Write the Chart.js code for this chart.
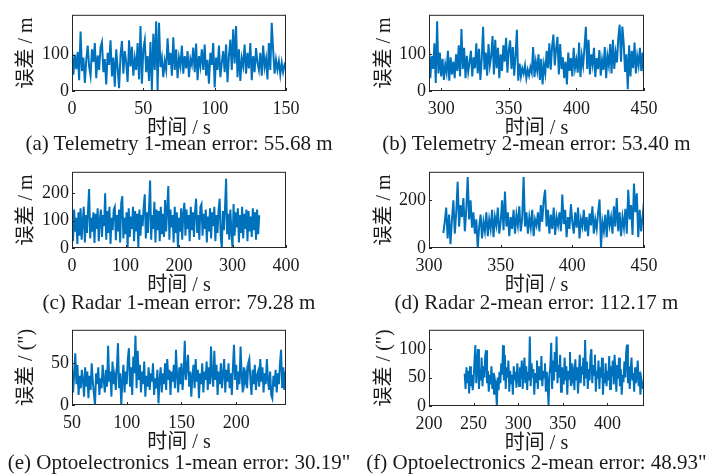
<!DOCTYPE html>
<html lang="zh">
<head>
<meta charset="UTF-8">
<title>误差曲线</title>
<style>
  body { margin: 0; background: #fff; width: 708px; height: 476px; position: relative; overflow: hidden; }
  canvas { position: absolute; }
  .cap { position: absolute; width: 420px; text-align: center; font: 21px "Liberation Serif", "Noto Sans CJK SC", serif; color: #1a1a1a; line-height: 22px; white-space: nowrap; }
</style>
</head>
<body>
<script src="https://cdn.jsdelivr.net/npm/chart.js"></script>
<script>
// (a) Telemetry 1, one sample per second from 0 s
const t0A = 0, dtA = 1;
const errA = [
  115, 45, 100, 60, 108, 30, 164, 55, 92, 22,
  85, 125, 68, 42, 115, 80, 132, 35, 98, 58,
  120, 135, 52, 88, 18, 105, 72, 140, 40, 92,
  12, 115, 62, 8, 98, 138, 48, 110, 78, 25,
  140, 68, 122, 42, 90, 58, 132, 32, 179, 20,
  115, 140, 52, 96, 28, 135, 2, 158, 58, 192,
  0, 188, 66, 92, 38, 82, 58, 145, 72, 105,
  42, 148, 58, 115, 35, 92, 68, 125, 48, 96,
  62, 110, 38, 88, 72, 120, 52, 131, 30, 96,
  68, 115, 58, 128, 42, 86, 20, 105, 72, 132,
  10, 92, 58, 125, 38, 78, 110, 52, 128, 24,
  96, 142, 58, 170, 76, 179, 38, 115, 28, 90,
  68, 128, 48, 105, 62, 132, 30, 96, 52, 118,
  78, 58, 105, 42, 125, 66, 90, 32, 132, 58,
  188, 112, 48, 86, 58, 82, 45, 78, 52, 72, 62
];
// (b) Telemetry 2, from 291 s
const t0B = 291, dtB = 1;
const errB = [
  120, 35, 95, 60, 130, 22, 190, 48, 105, 40,
  88, 30, 72, 50, 110, 28, 92, 45, 80, 35,
  100, 55, 125, 40, 169, 60, 118, 35, 96, 52,
  78, 110, 40, 92, 62, 130, 48, 115, 30, 88,
  175, 58, 105, 42, 128, 70, 95, 150, 45, 140,
  62, 118, 35, 100, 55, 125, 80, 145, 50, 112,
  138, 60, 120, 42, 98, 167, 28, 75, 40, 62,
  48, 70, 35, 58, 42, 65, 50, 120, 38, 80,
  55, 100, 30, 88, 18, 72, 48, 110, 62, 130,
  58, 120, 154, 70, 115, 148, 45, 128, 60, 92,
  35, 80, 18, 105, 55, 90, 40, 118, 62, 85,
  50, 132, 38, 96, 70, 120, 175, 60, 140, 45,
  100, 72, 118, 38, 90, 60, 112, 42, 85, 58,
  120, 35, 95, 70, 128, 48, 140, 60, 105, 78,
  145, 181, 80, 176, 130, 52, 100, 5, 125, 40,
  110, 62, 132, 48, 95, 70, 118, 55, 105, 40
];
// (c) Radar 1, every 2 s from 0 s
const t0C = 0, dtC = 2;
const errC = [
  100, 25, 140, 60, 110, 15, 130, 45, 145, 30,
  95, 150, 20, 120, 55, 140, 215, 35, 110, 60,
  130, 18, 125, 70, 145, 25, 100, 140, 40, 120,
  80, 200, 30, 135, 55, 150, 15, 110, 65, 140,
  150, 28, 120, 60, 140, 20, 165, 189, 35, 110,
  50, 130, 0, 145, 40, 115, 70, 150, 25, 135,
  60, 125, 0, 140, 45, 120, 80, 150, 196, 35,
  130, 55, 148, 246, 30, 120, 70, 169, 20, 140,
  65, 135, 25, 150, 50, 125, 40, 175, 60, 145,
  226, 30, 140, 75, 120, 20, 150, 55, 130, 0,
  110, 60, 145, 30, 125, 165, 45, 140, 70, 120,
  25, 150, 65, 130, 40, 135, 180, 55, 120, 30,
  150, 160, 45, 125, 70, 140, 20, 115, 60, 145,
  35, 130, 80, 150, 25, 120, 55, 140, 180, 40,
  0, 135, 65, 145, 253, 50, 125, 30, 140, 60,
  0, 160, 45, 130, 75, 145, 20, 120, 55, 150,
  35, 125, 70, 140, 25, 135, 60, 115, 40, 145,
  65, 130, 30, 140, 50, 120
];
// (d) Radar 2, from 310 s
const t0D = 310, dtD = 1;
const errD = [
  63, 110, 170, 40, 140, 16, 120, 200, 60, 150,
  278, 90, 180, 130, 210, 70, 160, 298, 120, 200,
  85, 150, 60, 120, 0, 90, 140, 40, 110, 70,
  150, 50, 120, 80, 160, 45, 130, 95, 170, 60,
  110, 200, 75, 237, 90, 150, 50, 130, 80, 160,
  60, 140, 95, 175, 70, 120, 298, 90, 150, 60,
  130, 85, 160, 50, 120, 95, 150, 70, 180, 110,
  200, 244, 90, 160, 60, 140, 80, 170, 55, 130,
  95, 150, 70, 224, 100, 160, 45, 130, 80, 184,
  110, 60, 150, 85, 170, 40, 120, 90, 160, 70,
  130, 50, 145, 95, 175, 60, 120, 80, 150, 204,
  0, 110, 70, 140, 45, 160, 95, 130, 60, 175,
  90, 210, 70, 150, 50, 130, 85, 165, 60, 244,
  120, 180, 55, 271, 150, 230, 45, 160, 70, 130,
  197
];
// (e) Optoelectronics 1, from 50 s
const t0E = 50, dtE = 1;
const errE = [
  45, 15, 38, 62, 25, 48, 12, 35, 20, 42,
  30, 10, 45, 22, 40, 8, 35, 18, 50, 28,
  14, 0, 38, 25, 45, 12, 32, 20, 48, 30,
  15, 42, 22, 71, 28, 40, 10, 52, 25, 35,
  18, 45, 74, 20, 38, 0, 30, 48, 15, 40,
  25, 55, 68, 22, 45, 12, 58, 38, 83, 20,
  65, 30, 48, 15, 40, 25, 52, 10, 35, 22,
  45, 18, 38, 28, 50, 12, 32, 20, 42, 2,
  30, 45, 15, 38, 25, 50, 18, 55, 30, 42,
  12, 40, 28, 48, 20, 66, 35, 15, 45, 25,
  50, 18, 38, 77, 30, 45, 60, 22, 40, 10,
  35, 48, 20, 55, 28, 42, 8, 38, 25, 50,
  15, 40, 30, 52, 18, 45, 25, 70, 35, 22,
  65, 30, 48, 12, 40, 25, 50, 20, 38, 55,
  15, 42, 28, 50, 20, 38, 12, 45, 72, 30,
  48, 18, 40, 25, 70, 35, 15, 45, 28, 38,
  20, 50, 55, 30, 12, 42, 25, 48, 18, 35,
  40, 22, 55, 28, 45, 15, 38, 25, 55, 30,
  18, 40, 12, 8, 35, 22, 42, 15, 38, 25,
  50, 66, 20, 45, 18, 40
];
// (f) Optoelectronics 2, from 240 s
const t0F = 240, dtF = 1;
const errF = [
  57, 30, 68, 40, 62, 22, 70, 35, 55, 28,
  45, 80, 107, 40, 75, 100, 30, 65, 45, 85,
  35, 70, 50, 88, 98, 40, 62, 25, 55, 38,
  70, 30, 58, 20, 45, 35, 0, 50, 28, 60,
  40, 75, 55, 107, 45, 90, 30, 68, 50, 80,
  25, 62, 40, 55, 20, 70, 45, 60, 32, 75,
  50, 35, 68, 48, 80, 30, 62, 85, 40, 70,
  28, 60, 45, 122, 35, 75, 50, 65, 20, 58,
  42, 80, 30, 70, 55, 45, 88, 35, 62, 50,
  75, 25, 60, 40, 0, 55, 70, 111, 30, 80,
  45, 95, 60, 122, 40, 72, 50, 90, 25, 68,
  55, 38, 85, 45, 70, 20, 62, 48, 95, 35,
  75, 50, 60, 28, 82, 45, 68, 22, 58, 90,
  40, 70, 55, 85, 35, 116, 50, 78, 30, 65,
  45, 88, 100, 40, 72, 55, 90, 25, 62, 48,
  80, 30, 68, 50, 85, 20, 58, 40, 75, 35,
  62, 45, 88, 30, 70, 52, 80, 38, 90, 60,
  25, 72, 48, 85, 35, 65, 20, 55, 42, 78,
  50, 95, 108, 40, 70, 30, 62, 85, 45, 58,
  25, 68, 40, 55, 80, 35, 60, 20, 48, 38,
  30
];

// tick labels
const xTicksA = [0, 50, 100, 150], yTicksA = [0, 100];
const xTicksB = [300, 350, 400, 450], yTicksB = [0, 100];
const xTicksC = [0, 100, 200, 300, 400], yTicksC = [0, 100, 200];
const xTicksD = [300, 350, 400, 450], yTicksD = [0, 200];
const xTicksE = [50, 100, 150, 200], yTicksE = [0, 50];
const xTicksF = [200, 250, 300, 350, 400], yTicksF = [0, 50, 100];

const captions = [
  '(a) Telemetry 1-mean error: 55.68 m',
  '(b) Telemetry 2-mean error: 53.40 m',
  '(c) Radar 1-mean error: 79.28 m',
  '(d) Radar 2-mean error: 112.17 m',
  '(e) Optoelectronics 1-mean error: 30.19"',
  '(f) Optoelectronics 2-mean error: 48.93"'
];
const yTitleM = '误差 / m';
const yTitleSec = '误差 / (")';
const xTitle = '时间 / s';

Chart.defaults.font.family = '"Liberation Serif", "Noto Sans CJK SC", serif';
Chart.defaults.color = '#1a1a1a';

// box + inward tick marks, like a matlab axes
const framePlugin = {
  id: 'frame',
  afterDatasetsDraw(chart) {
    const { ctx, chartArea: a, scales } = chart;
    ctx.save();
    ctx.strokeStyle = '#262626';
    ctx.lineWidth = 1;
    ctx.strokeRect(a.left + 0.5, a.top + 0.5, a.width - 1, a.height - 1);
    ctx.beginPath();
    scales.x.ticks.forEach(t => {
      const px = Math.round(scales.x.getPixelForValue(t.value)) + 0.5;
      ctx.moveTo(px, a.bottom);
      ctx.lineTo(px, a.bottom - 3);
    });
    scales.y.ticks.forEach(t => {
      const py = Math.round(scales.y.getPixelForValue(t.value)) + 0.5;
      ctx.moveTo(a.left, py);
      ctx.lineTo(a.left + 3, py);
    });
    ctx.stroke();
    ctx.restore();
  }
};

function makePanel(p) {
  const cv = document.createElement('canvas');
  const padTop = 10, axisH = 50, W = 330;
  const H = p.bottom - p.top + padTop + axisH;
  cv.width = W; cv.height = H;
  cv.style.left = p.col + 'px';
  cv.style.top = (p.top - padTop) + 'px';
  document.body.appendChild(cv);

  const pts = p.values.map((v, i) => ({ x: p.t0 + i * p.dt, y: v }));

  new Chart(cv, {
    type: 'line',
    data: { datasets: [{ data: pts, borderColor: '#0072BD', borderWidth: 2, pointRadius: 0, tension: 0 }] },
    options: {
      responsive: false,
      animation: false,
      devicePixelRatio: 1,
      layout: { padding: { top: padTop, left: 0, right: W - p.right, bottom: 0 } },
      plugins: { legend: { display: false }, tooltip: { enabled: false } },
      scales: {
        x: {
          type: 'linear', min: p.xMin, max: p.xMax,
          afterBuildTicks: s => { s.ticks = p.xTicks.map(v => ({ value: v })); },
          afterFit: s => { s.height = axisH; },
          grid: { display: false, drawTicks: false },
          border: { display: false },
          ticks: { padding: 7, font: { size: 18 }, maxRotation: 0, autoSkip: false },
          title: { display: true, text: xTitle, font: { size: 20 }, padding: { top: 0, bottom: 0 } }
        },
        y: {
          type: 'linear', min: 0, max: p.yMax,
          afterBuildTicks: s => { s.ticks = p.yTicks.map(v => ({ value: v })); },
          afterFit: s => { s.width = p.left; },
          grid: { display: false, drawTicks: false },
          border: { display: false },
          ticks: { padding: 3, font: { size: 18 } },
          title: { display: true, text: p.yTitle, font: { size: 20 }, padding: { top: p.yTitlePad, bottom: 0 } }
        }
      }
    },
    plugins: [framePlugin]
  });

  const cap = document.createElement('div');
  cap.className = 'cap';
  cap.textContent = p.caption;
  cap.style.left = (p.col + (p.left + p.right) / 2 - 210) + 'px';
  cap.style.top = (p.capY - 11) + 'px';
  document.body.appendChild(cap);
}

const L = { col: 0, left: 72, right: 286, yTitlePad: 15 };
const R = { col: 354, left: 75, right: 290, yTitlePad: 19 };

[
  { ...L, top: 11, bottom: 91, xMin: 0, xMax: 150, yMax: 210, xTicks: xTicksA, yTicks: yTicksA, t0: t0A, dt: dtA, values: errA, yTitle: yTitleM, caption: captions[0], capY: 143 },
  { ...R, top: 11, bottom: 91, xMin: 291, xMax: 450, yMax: 208, xTicks: xTicksB, yTicks: yTicksB, t0: t0B, dt: dtB, values: errB, yTitle: yTitleM, caption: captions[1], capY: 143 },
  { ...L, top: 168, bottom: 248, xMin: 0, xMax: 400, yMax: 278, xTicks: xTicksC, yTicks: yTicksC, t0: t0C, dt: dtC, values: errC, yTitle: yTitleM, caption: captions[2], capY: 302 },
  { ...R, top: 168, bottom: 248, xMin: 300, xMax: 450, yMax: 320, xTicks: xTicksD, yTicks: yTicksD, t0: t0D, dt: dtD, values: errD, yTitle: yTitleM, caption: captions[3], capY: 302 },
  { ...L, top: 326, bottom: 405, xMin: 50, xMax: 245.5, yMax: 90, xTicks: xTicksE, yTicks: yTicksE, t0: t0E, dt: dtE, values: errE, yTitle: yTitleSec, caption: captions[4], capY: 462 },
  { ...R, top: 326, bottom: 406, xMin: 200, xMax: 441, yMax: 134, xTicks: xTicksF, yTicks: yTicksF, t0: t0F, dt: dtF, values: errF, yTitle: yTitleSec, caption: captions[5], capY: 462 }
].forEach(makePanel);
</script>
</body>
</html>
